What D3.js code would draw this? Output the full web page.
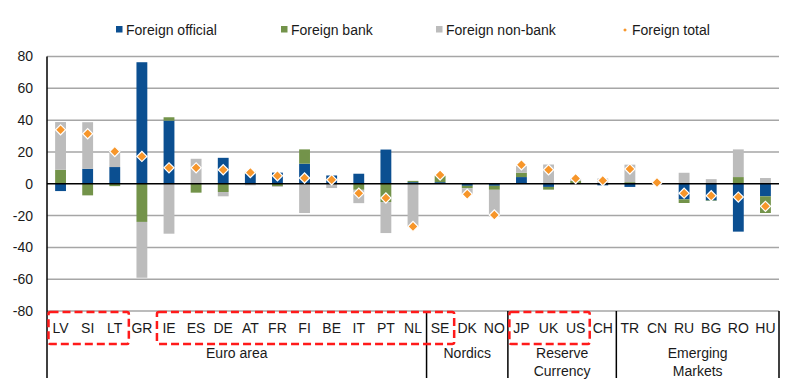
<!DOCTYPE html>
<html>
<head>
<meta charset="utf-8">
<script src="https://cdn.jsdelivr.net/npm/d3@7"></script>
<style>
body{margin:0;background:#fff;}
text{font-family:"Liberation Sans",Arial,sans-serif;fill:#1a1a1a;}
</style>
</head>
<body>
<div id="chart"></div>
<script>
var w=800, h=388;

var categories=["LV","SI","LT","GR","IE","ES","DE","AT","FR","FI","BE","IT","PT","NL","SE","DK","NO","JP","UK","US","CH","TR","CN","RU","BG","RO","HU"];
var official=[-4.6,9.4,10.5,76.4,39.7,0,16.3,6.5,7,12.6,5.2,6.3,21.5,1,1,-1.3,-1.3,4.2,-2,0.3,-1,-2,0.3,-9.8,-10.5,-30.1,-7.9];
var bank=[8.8,-7.3,-1.5,-24,2.1,-5.6,-5.2,1,-1.5,9,0,-3.8,-11.5,0.8,4,-1.5,-2.5,2.7,-1.7,1.5,0.3,1,0.2,-2.3,-0.3,4.2,-10.5];
var nonbank=[30,29.3,10.5,-35.1,-31.4,15.7,-2.7,-1,-0.5,-18.4,-2.7,-8.4,-19.5,-27.2,0.5,-4,-16.7,4.2,12.1,1.5,3,11,0.3,6.9,2.9,17.4,3.6];
var total=[33.9,31.4,20.3,17.2,10,10,8.8,7,5,3.6,2.5,-5.9,-9,-26.8,5.5,-6.6,-19.6,11.9,8.8,3.3,2,9.2,0.8,-5.9,-7.5,-8.4,-14.2];
var yTicks=[-80,-60,-40,-20,0,20,40,60,80];

var groups=[
  {name:["Euro area"],from:"LV",to:"NL"},
  {name:["Nordics"],from:"SE",to:"NO"},
  {name:["Reserve","Currency"],from:"JP",to:"CH"},
  {name:["Emerging","Markets"],from:"TR",to:"HU"}
];
var boxes=[["LV","LT"],["IE","SE"],["JP","US"]];

var seriesKeys=["official","bank","nonbank"];
var seriesNames=["Foreign official","Foreign bank","Foreign non-bank"];
var colors={official:"#0b4f91",bank:"#73934a",nonbank:"#bcbcbc"};
var orange="#f7962a";

var rows=categories.map(function(c,i){
  return {cat:c,official:official[i],bank:bank[i],nonbank:nonbank[i],total:total[i]};
});

var svg=d3.select("#chart").append("svg").attr("width",w).attr("height",h);

var x=d3.scaleBand().domain(categories).range([47,779]).paddingInner(0.6).paddingOuter(0.3);
var y=d3.scaleLinear().domain([-80,80]).range([311,56.5]);
var step=x.step();
var bandL=function(c){return x(c)-step*x.paddingInner()/2;};

// gridlines
svg.append("g").selectAll("line").data(yTicks.filter(function(d){return d!==0;})).enter().append("line")
  .attr("x1",47).attr("x2",779)
  .attr("y1",function(d){return y(d);}).attr("y2",function(d){return y(d);})
  .attr("stroke","#a6a6a6").attr("stroke-width",1.5);

// y axis labels (plain hyphen minus like the original)
var yAxis=d3.axisLeft(y).tickValues(yTicks).tickSize(0).tickPadding(14)
  .tickFormat(function(d){return String(d);});
var ya=svg.append("g").attr("transform","translate(47,0)").call(yAxis);
ya.select(".domain").remove();
ya.selectAll("text").attr("font-size",14).attr("fill","#1a1a1a");

// stacked bars
var stack=d3.stack().keys(seriesKeys).offset(d3.stackOffsetDiverging);
var stacked=stack(rows);
svg.append("g").selectAll("g").data(stacked).enter().append("g")
  .attr("fill",function(d){return colors[d.key];})
  .selectAll("rect").data(function(d){return d;}).enter().append("rect")
  .attr("x",function(d){return x(d.data.cat);})
  .attr("width",x.bandwidth())
  .attr("y",function(d){return y(Math.max(d[0],d[1]));})
  .attr("height",function(d){return Math.abs(y(d[0])-y(d[1]));});

// zero line
svg.append("line").attr("x1",47).attr("x2",779).attr("y1",y(0)).attr("y2",y(0))
  .attr("stroke","#000").attr("stroke-width",1.5);

// total diamonds
svg.append("g").selectAll("path").data(rows).enter().append("path")
  .attr("d",d3.symbol().type(d3.symbolSquare).size(52))
  .attr("transform",function(d){return "translate("+(x(d.cat)+x.bandwidth()/2)+","+y(d.total)+") rotate(45)";})
  .attr("fill",orange).attr("stroke","#fff").attr("stroke-width",1.2);

// category labels
svg.append("g").selectAll("text").data(categories).enter().append("text")
  .attr("x",function(d){return x(d)+x.bandwidth()/2;})
  .attr("y",333)
  .attr("text-anchor","middle").attr("font-size",14)
  .text(function(d){return d;});

// group separators and names
var sepX=[47];
groups.forEach(function(g){sepX.push(bandL(g.to)+step);});
svg.append("g").selectAll("line").data(sepX).enter().append("line")
  .attr("x1",function(d){return d;}).attr("x2",function(d){return d;})
  .attr("y1",function(d,i){return i===0?56.5:311;}).attr("y2",378)
  .attr("stroke","#000").attr("stroke-width",1.5);

groups.forEach(function(g){
  var cx=(bandL(g.from)+bandL(g.to)+step)/2;
  var t=svg.append("text").attr("x",cx).attr("y",358).attr("text-anchor","middle").attr("font-size",14);
  g.name.forEach(function(s,i){
    t.append("tspan").attr("x",cx).attr("dy",i===0?0:18).text(s);
  });
});

// red dashed boxes
svg.append("g").selectAll("rect").data(boxes).enter().append("rect")
  .attr("x",function(d){return bandL(d[0])+1.5;})
  .attr("width",function(d){return bandL(d[1])+step-bandL(d[0])-1;})
  .attr("y",312).attr("height",32).attr("rx",2)
  .attr("fill","none").attr("stroke","#ff1a1a").attr("stroke-width",2.5)
  .attr("stroke-dasharray","8,4");

// legend
var legX=[116,281,436];
var leg=svg.append("g");
seriesKeys.forEach(function(k,i){
  leg.append("rect").attr("x",legX[i]).attr("y",26).attr("width",6.5).attr("height",6.5).attr("fill",colors[k]);
  leg.append("text").attr("x",legX[i]+10).attr("y",34.5).attr("font-size",14).text(seriesNames[i]);
});
leg.append("path").attr("d",d3.symbol().type(d3.symbolSquare).size(7))
  .attr("transform","translate(625,30) rotate(45)").attr("fill",orange);
leg.append("text").attr("x",632).attr("y",34.5).attr("font-size",14).text("Foreign total");
</script>
</body>
</html>
